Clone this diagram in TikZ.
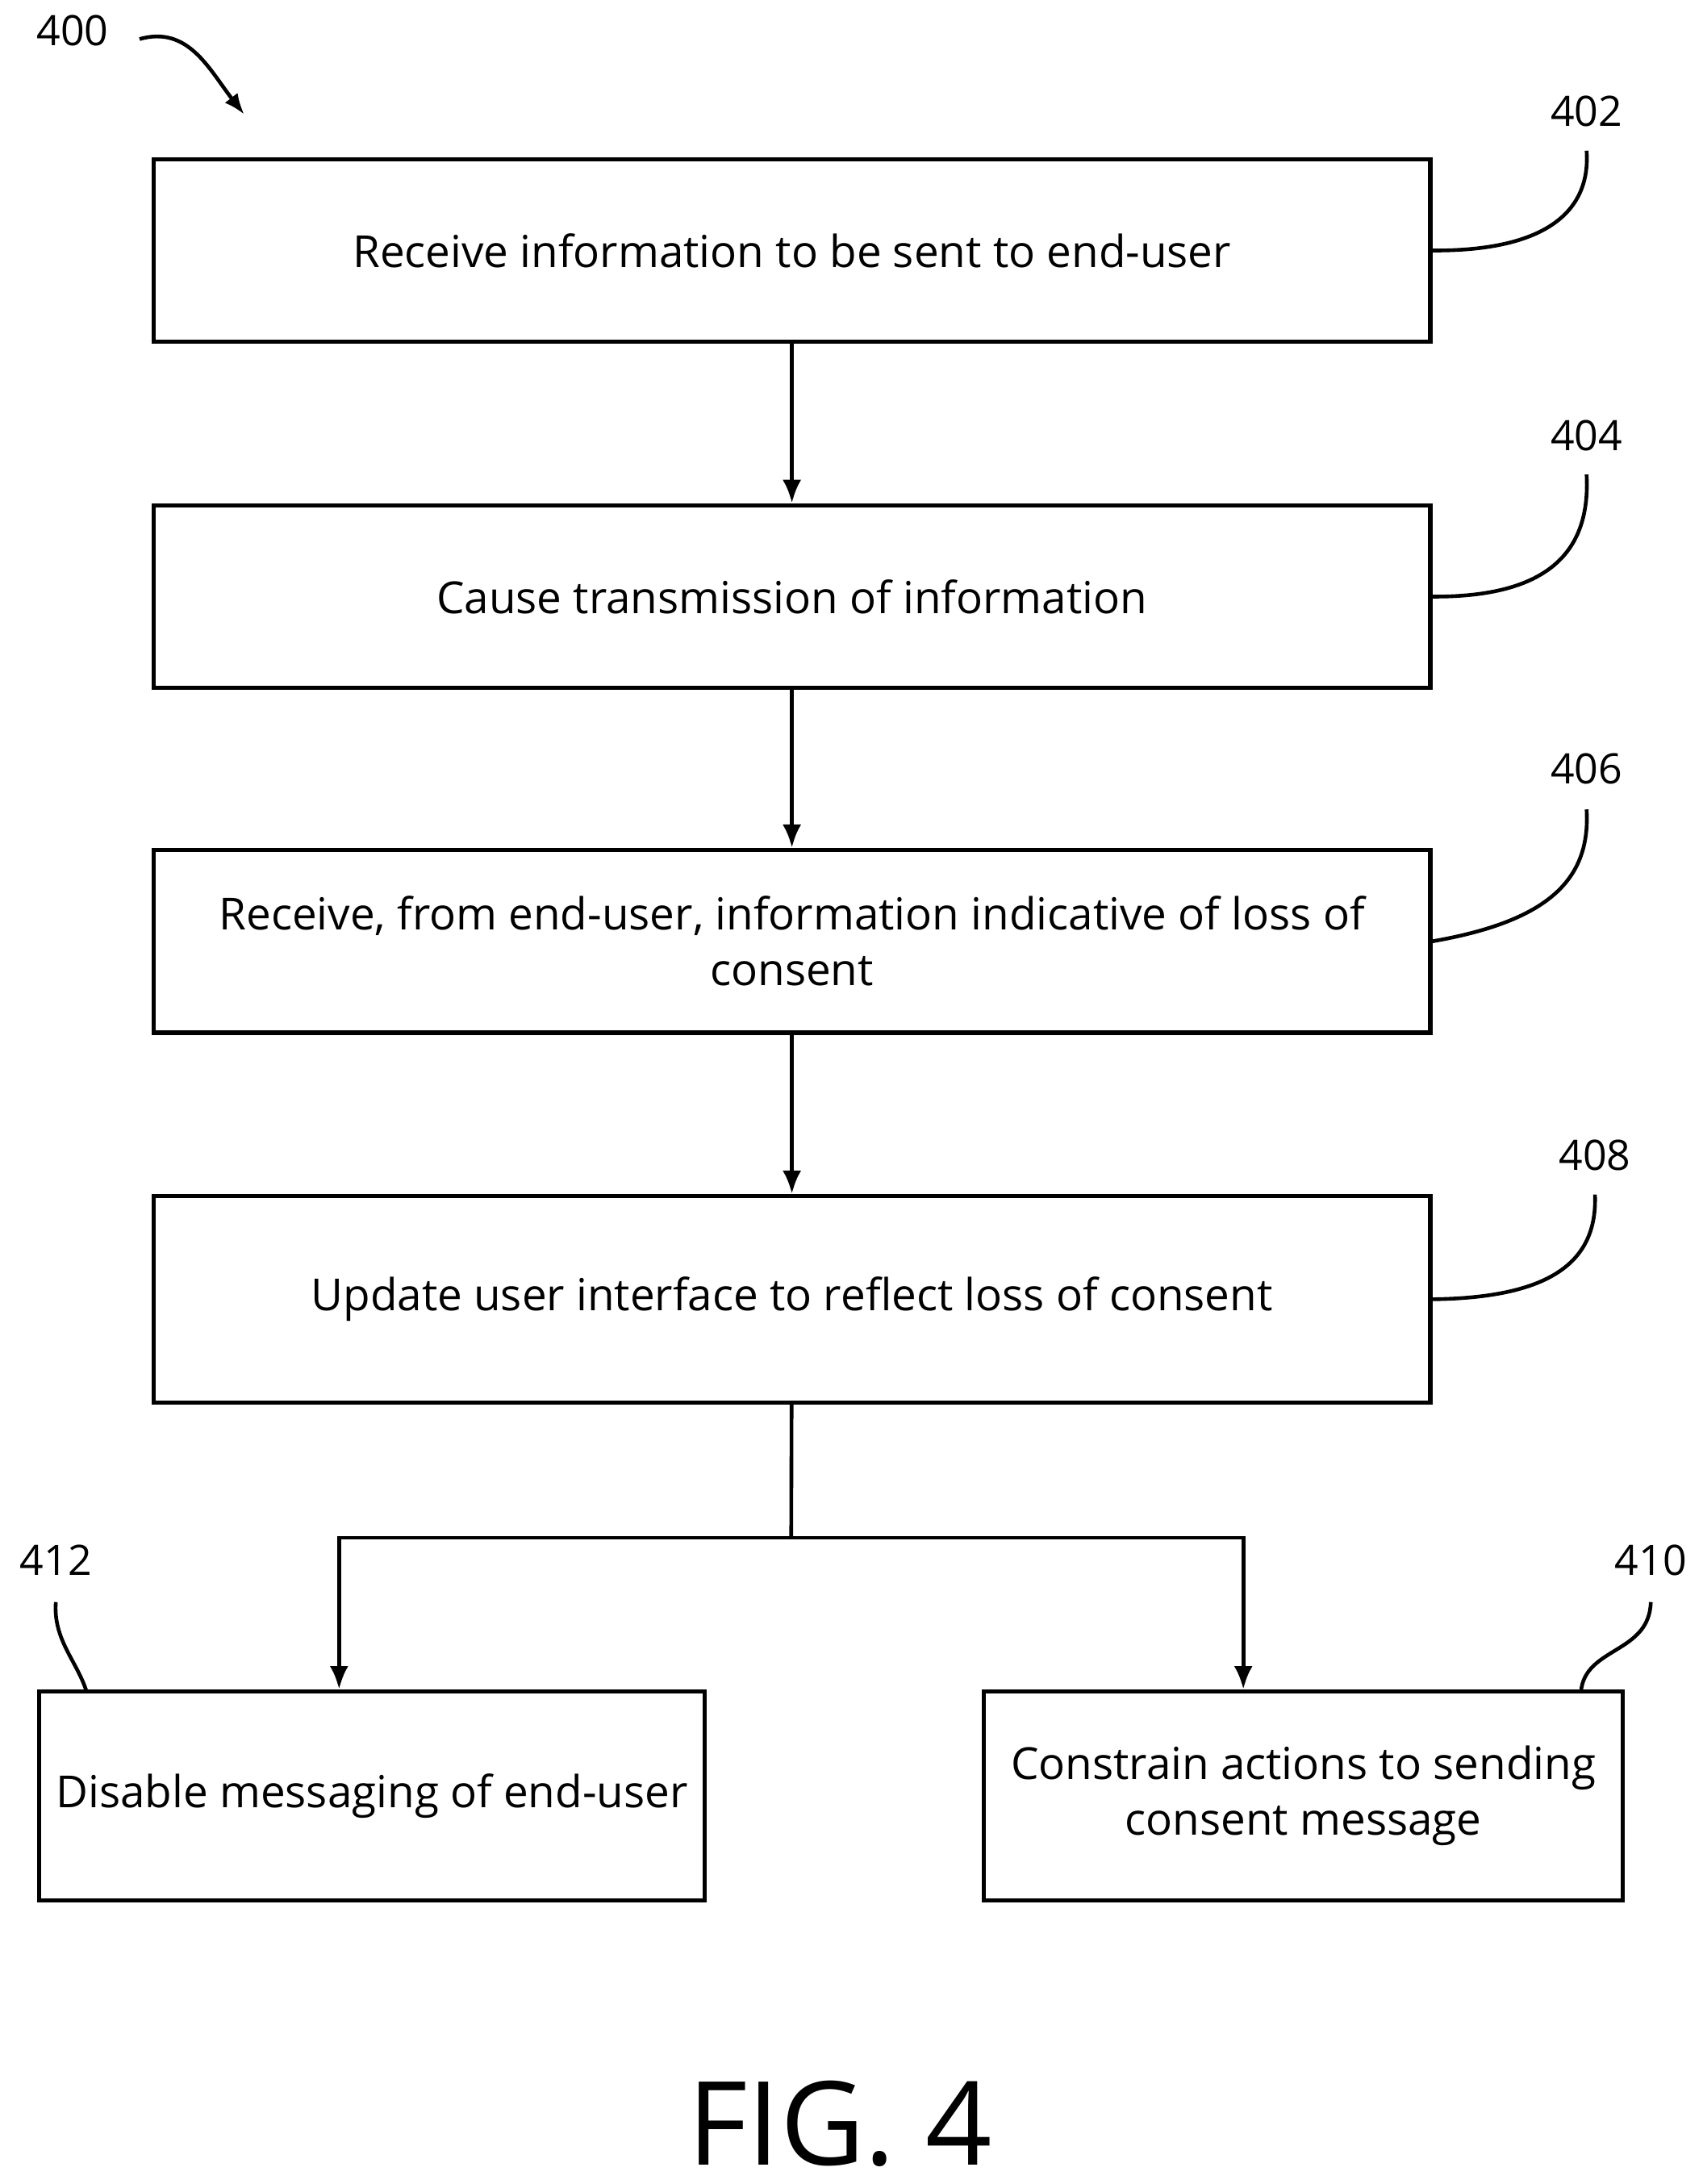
\documentclass[tikz,border=0pt]{standalone}
\usepackage{fontspec}
\setmainfont{Open Sans}
\usetikzlibrary{positioning,arrows.meta}

\begin{document}
\begin{tikzpicture}[x=0.6pt, y=-0.6pt,
  box/.style = {draw, line width=1.8pt, inner sep=0pt, align=center,
                 font=\fontsize{19}{24}\selectfont},
  flow/.style = {-{Latex[length=10pt,width=8pt]}, line width=1.6pt},
  lead/.style = {line width=1.6pt},
  num/.style  = {font=\fontsize{18}{22}\selectfont}]

\useasboundingbox (0,0) rectangle (1220,1565);

% process boxes
\node[box, minimum width=915*0.6pt, minimum height=131*0.6pt] (receive) at (567.5,179.5)
  {Receive information to be sent to end-user};
\node[box, minimum width=915*0.6pt, minimum height=131*0.6pt] (transmit) at (567.5,427.5)
  {Cause transmission of information};
\node[box, minimum width=915*0.6pt, minimum height=131*0.6pt] (loss) at (567.5,674.5)
  {Receive, from end-user, information indicative of loss of\\consent};
\node[box, minimum width=915*0.6pt, minimum height=148*0.6pt] (update) at (567.5,931)
  {Update user interface to reflect loss of consent};
\node[box, minimum width=477*0.6pt, minimum height=150*0.6pt] (disable) at (266.5,1287)
  {Disable messaging of end-user};
\node[box, minimum width=458*0.6pt, minimum height=150*0.6pt] (constrain) at (934,1287)
  {Constrain actions to sending\\consent message};

% arrows between steps
\draw[flow] (receive) -- (transmit);
\draw[flow] (transmit) -- (loss);
\draw[flow] (loss) -- (update);
\coordinate (split) at (567,1102);
\draw[lead] (update) -- (split);
\draw[flow] (split) -| (disable.north -| 243,0);
\draw[flow] (split) -| (constrain.north -| 891,0);

% reference numerals
\node[num] (n400) at (52,22) {400};
\node[num] (n402) at (1137,80) {402};
\node[num] (n404) at (1137,312) {404};
\node[num] (n406) at (1137,551) {406};
\node[num] (n408) at (1143,828) {408};
\node[num] (n412) at (40,1118) {412};
\node[num] (n410) at (1183,1118) {410};

\draw[lead, -{Latex[length=9pt,width=7pt]}] (100,28) .. controls (135,18) and (150,50) .. (175,82);
\draw[lead] (receive.east) .. controls (1110,180) and (1140,150) .. (1137,108);
\draw[lead] (transmit.east) .. controls (1110,428) and (1140,395) .. (1137,340);
\draw[lead] (loss.east) .. controls (1110,660) and (1140,630) .. (1137,580);
\draw[lead] (update.east) .. controls (1110,930) and (1145,905) .. (1143,856);
\draw[lead] (62,1212) .. controls (55,1190) and (38,1175) .. (40,1148);
\draw[lead] (1133,1212) .. controls (1136,1180) and (1182,1185) .. (1183,1148);

\node[font=\fontsize{50}{54}\selectfont] (fig) at (602,1522) {FIG. 4};
\end{tikzpicture}
\end{document}
